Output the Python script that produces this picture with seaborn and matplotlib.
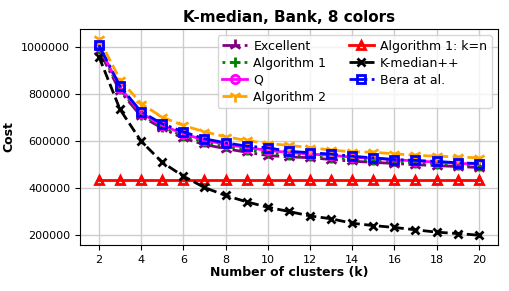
import numpy as np
import pandas as pd
import matplotlib
matplotlib.use("Agg")
import matplotlib.pyplot as plt
import seaborn as sns

k = list(range(2, 21))
excellent = [985000, 813000, 706000, 655000, 612000, 586000, 568000, 553000, 539000, 533000,
             530000, 522000, 515000, 510000, 505000, 500000, 496000, 492000, 488000]
algorithm1 = [995000, 820000, 713000, 660000, 622000, 596000, 578000, 563000, 550000, 542000,
              537000, 530000, 524000, 519000, 514000, 509000, 505000, 500000, 496000]
q_vals = [1005000, 828000, 720000, 667000, 632000, 604000, 587000, 573000, 561000, 552000,
          545000, 540000, 532000, 527000, 521000, 516000, 511000, 506000, 502000]
algorithm2 = [1035000, 862000, 760000, 702000, 667000, 640000, 619000, 603000, 590000, 582000,
              573000, 562000, 555000, 553000, 546000, 540000, 536000, 533000, 529000]
alg1_kn = [435000] * 19
kmedianpp = [960000, 735000, 600000, 510000, 451000, 403000, 369000, 342000, 319000, 301000,
             282000, 270000, 251000, 241000, 233000, 223000, 213000, 207000, 200000]
bera = [1008000, 834000, 725000, 674000, 640000, 610000, 593000, 579000, 572000, 557000,
        551000, 545000, 536000, 529000, 522000, 518000, 514000, 508000, 505000]

series = [
    ("Excellent", excellent, "purple", "-.", dict(marker="2", markersize=9, markeredgewidth=2)),
    ("Algorithm 1", algorithm1, "green", ":", dict(marker="+", markersize=7, markeredgewidth=2)),
    ("Q", q_vals, "magenta", "-", dict(marker="o", markersize=6, markerfacecolor="none", markeredgewidth=2)),
    ("Algorithm 2", algorithm2, "orange", "--", dict(marker="1", markersize=9, markeredgewidth=2)),
    ("Algorithm 1: k=n", alg1_kn, "red", "-", dict(marker="^", markersize=6, markerfacecolor="none", markeredgewidth=2)),
    ("K-median++", kmedianpp, "black", "--", dict(marker="x", markersize=6, markeredgewidth=2)),
    ("Bera at al.", bera, "blue", "-.", dict(marker="s", markersize=6, markerfacecolor="none", markeredgewidth=2)),
]

fig = plt.figure(figsize=(5.09, 2.91), dpi=100)
ax = fig.add_axes([0.157, 0.158, 0.821, 0.742])

handles = []
for name, vals, color, ls, mk in series:
    df = pd.DataFrame({"k": k, "cost": vals})
    n_before = len(ax.lines)
    sns.lineplot(data=df, x="k", y="cost", ax=ax, color=color, linewidth=2, legend=False)
    line = ax.lines[n_before]
    line.set_linestyle(ls)
    line.set_marker(mk["marker"])
    line.set_markersize(mk["markersize"])
    line.set_markeredgewidth(mk["markeredgewidth"])
    line.set_markeredgecolor(color)
    line.set_markerfacecolor(mk.get("markerfacecolor", color))
    line.set_label(name)
    handles.append(line)

ax.set_xticks(range(2, 21, 2))
ax.ticklabel_format(axis="y", style="plain")
ax.tick_params(labelsize=8)
ax.grid(True, color="#cccccc", linewidth=1)
ax.set_xlabel("Number of clusters (k)", fontsize=9, fontweight="bold", labelpad=1)
ax.set_ylabel("Cost", fontsize=9, fontweight="bold", labelpad=4)
ax.set_title("K-median, Bank, 8 colors", fontsize=11, fontweight="bold", pad=5)
ax.legend(handles=handles, loc="upper right", ncol=2, fontsize=9, handlelength=2, labelspacing=0.32,
          columnspacing=1.8, borderpad=0.35, handletextpad=0.5)

fig.savefig("out.png", dpi=100)
